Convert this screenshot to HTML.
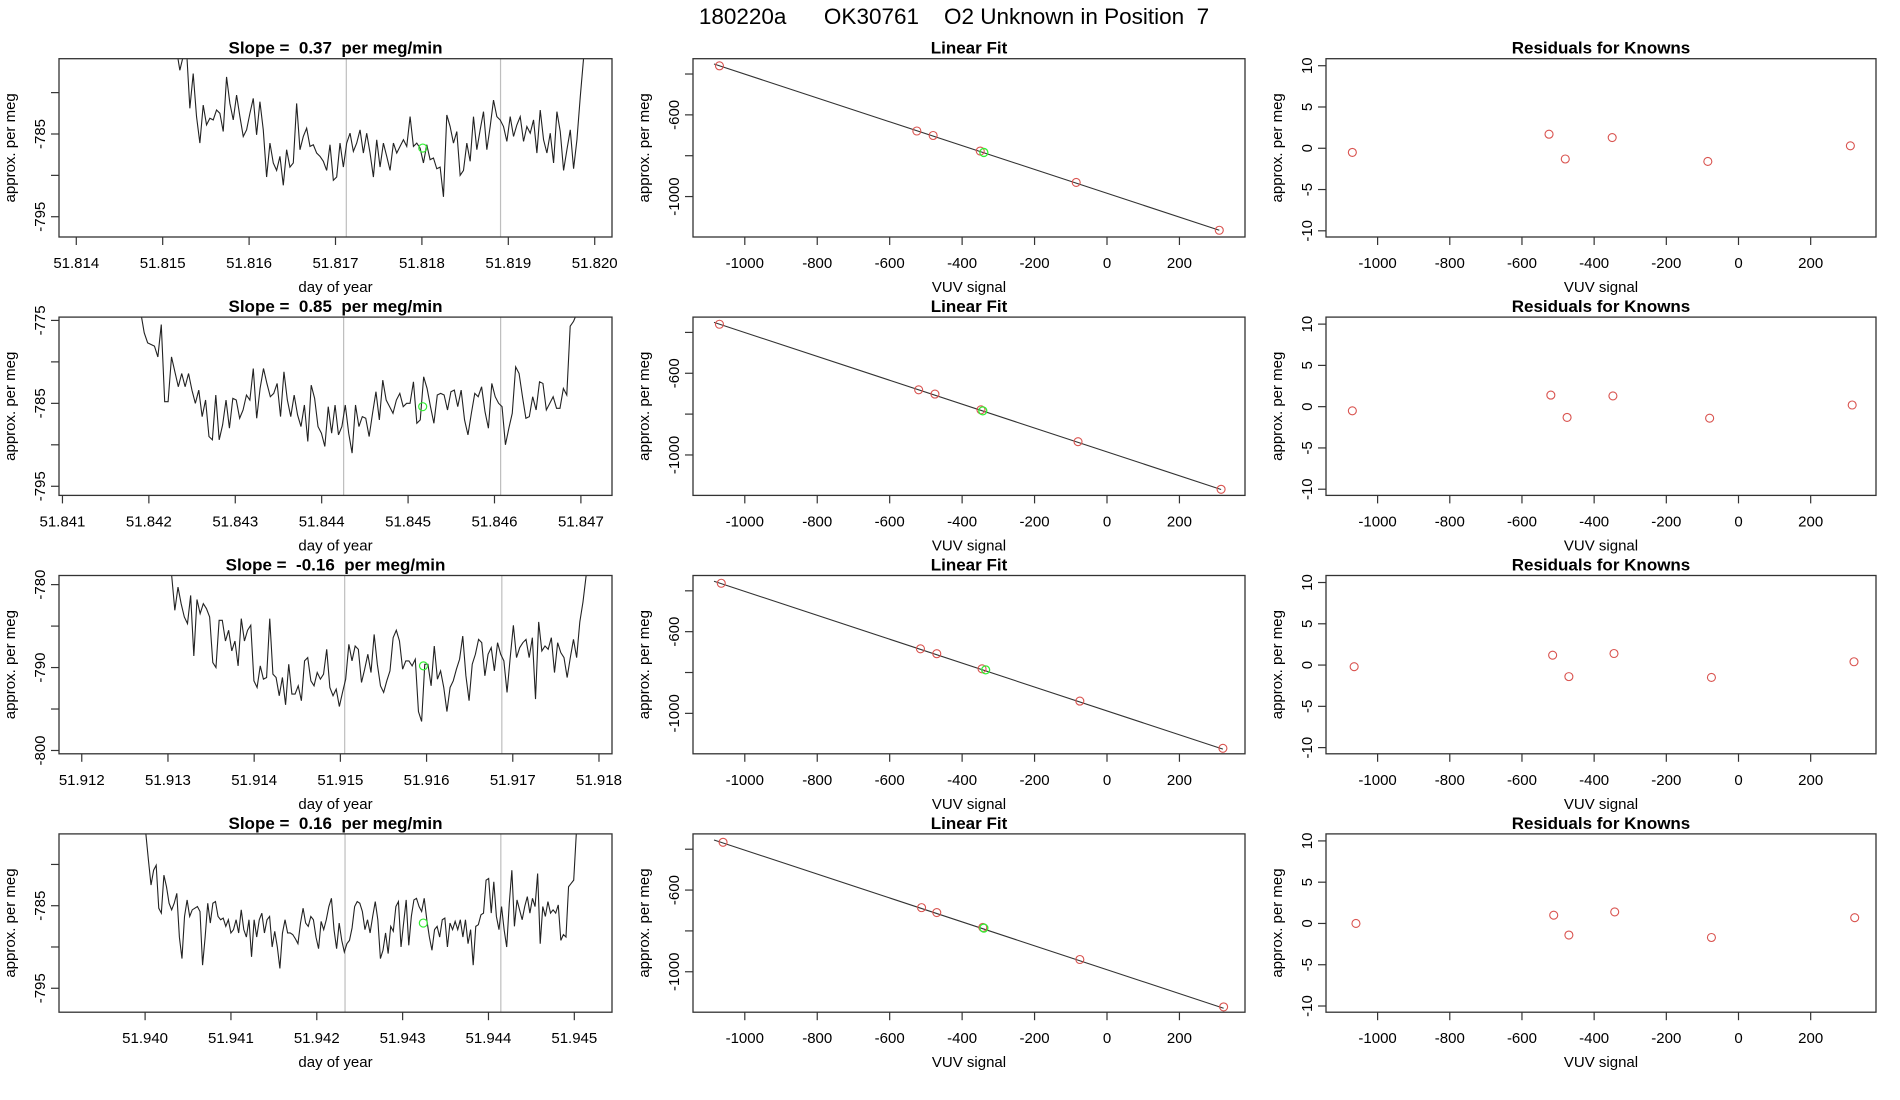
<!DOCTYPE html>
<html><head><meta charset="utf-8">
<style>
html,body{margin:0;padding:0;background:#fff;}
svg{display:block;font-family:"Liberation Sans",sans-serif;}
text{white-space:pre;}
</style></head>
<body>
<svg id="chart" xmlns="http://www.w3.org/2000/svg" width="1900" height="1100" viewBox="0 0 1900 1100">
<text x="954" y="24" font-size="22.5" text-anchor="middle" xml:space="preserve">180220a      OK30761    O2 Unknown in Position  7</text>
</svg>
<script>
// ---------- time-series data (per row) ----------
const tsTitles = ["Slope =  0.37  per meg/min","Slope =  0.85  per meg/min","Slope =  -0.16  per meg/min","Slope =  0.16  per meg/min"];
const tsStart = [51.81516, 51.841907, 51.913043, 51.940009];
const tsEnd = [51.81991, 51.846955, 51.917851, 51.945023];
const tsXlim = [[51.81380,51.82020],[51.84096,51.84736],[51.911736,51.918151],[51.938997,51.945439]];
const tsYlim = [[-797.45,-775.9],[-796.1,-774.6],[-800.4,-778.9],[-797.9,-776.3]];
const tsXticks = [[51.814,51.815,51.816,51.817,51.818,51.819,51.820],[51.841,51.842,51.843,51.844,51.845,51.846,51.847],[51.912,51.913,51.914,51.915,51.916,51.917,51.918],[51.940,51.941,51.942,51.943,51.944,51.945]];
const tsYticks = [[-780,-785,-790,-795],[-775,-780,-785,-790,-795],[-780,-785,-790,-795,-800],[-780,-785,-790,-795]];
const tsYlabels = [[-785,-795],[-775,-785,-795],[-780,-790,-800],[-785,-795]];
const tsVlines = [[51.817125,51.81891],[51.844254,51.846071],[51.915050,51.916873],[51.942329,51.944144]];
const tsGreenX = [51.81801, 51.845169, 51.915964, 51.943241];
const tsGreenY = [-786.7, -785.4, -789.8, -787.1];
const ts1 = [-774.8,-777.3,-775.6,-774.8,-781.9,-777.7,-782.9,-786.1,-781.5,-783.9,-783.1,-783.3,-782.1,-782.5,-784.7,-778.1,-781.3,-783.3,-780.3,-782.9,-785.3,-784.5,-782.5,-780.7,-785.1,-781.1,-784.5,-790.2,-786.1,-788.5,-789.4,-787.7,-791.2,-786.9,-789.0,-788.5,-781.3,-786.9,-785.3,-784.3,-786.5,-786.3,-787.3,-787.7,-788.3,-789.4,-786.3,-790.6,-790.2,-786.1,-789.0,-786.1,-784.9,-787.1,-786.1,-784.5,-787.3,-784.9,-787.3,-790.2,-785.7,-789.0,-786.1,-787.7,-789.4,-786.1,-787.3,-786.5,-785.7,-786.5,-782.9,-786.5,-786.1,-786.7,-788.5,-786.3,-788.1,-787.9,-789.2,-789.0,-792.6,-782.7,-784.1,-786.1,-784.7,-790.0,-789.4,-786.1,-788.3,-782.9,-786.9,-784.5,-782.3,-786.9,-784.1,-780.9,-782.9,-783.3,-784.1,-785.9,-782.9,-785.3,-783.9,-782.9,-785.9,-784.1,-784.9,-783.3,-787.3,-782.1,-785.7,-787.3,-784.9,-788.5,-782.3,-784.7,-789.4,-786.9,-784.5,-789.2,-785.7,-780.5,-775.8,-770];
const ts2 = [-774.1,-776.5,-777.7,-777.9,-778.1,-779.4,-775.5,-784.8,-784.8,-779.4,-781.2,-783.0,-781.4,-783.0,-781.4,-783.4,-785.0,-783.4,-786.6,-784.6,-789.0,-789.4,-784.0,-789.4,-787.6,-784.6,-788.0,-784.4,-784.6,-786.8,-785.8,-784.0,-784.6,-780.8,-786.8,-783.2,-780.8,-782.6,-784.2,-783.8,-782.6,-786.6,-781.2,-784.6,-786.6,-784.0,-786.4,-787.8,-785.2,-789.6,-782.8,-784.4,-787.8,-788.6,-790.2,-785.4,-788.6,-785.2,-788.8,-787.8,-785.2,-788.6,-791.0,-785.2,-787.8,-786.6,-786.8,-789.0,-786.2,-783.6,-787.0,-782.2,-784.6,-785.4,-786.2,-784.6,-783.8,-785.4,-785.0,-785.0,-782.4,-787.4,-787.0,-781.8,-783.2,-785.4,-787.4,-784.0,-783.8,-784.0,-785.8,-783.6,-783.4,-785.4,-783.4,-787.0,-788.8,-786.2,-783.8,-784.2,-783.0,-786.0,-788.0,-782.6,-784.2,-785.0,-785.4,-790.0,-788.0,-786.2,-780.6,-781.4,-784.2,-786.8,-786.6,-784.2,-785.8,-782.4,-782.6,-785.8,-785.0,-784.2,-785.6,-785.6,-783.2,-784.0,-775.7,-775.1,-774.1];
const ts3 = [-778.9,-783.1,-780.3,-782.3,-783.9,-784.7,-781.3,-788.6,-781.8,-783.5,-782.3,-782.9,-783.9,-789.4,-790.0,-784.3,-784.3,-786.8,-785.5,-788.0,-786.8,-789.8,-784.1,-786.8,-785.5,-784.9,-791.6,-792.4,-789.8,-791.4,-791.2,-784.1,-790.8,-791.2,-793.4,-791.2,-794.5,-789.6,-793.2,-793.2,-792.2,-794.0,-789.2,-788.8,-791.6,-792.2,-790.6,-791.4,-790.8,-787.8,-792.4,-793.4,-792.6,-794.7,-793.0,-791.4,-787.2,-789.2,-787.4,-787.8,-791.8,-790.2,-788.4,-790.6,-786.0,-789.6,-792.2,-793.0,-791.6,-790.4,-786.4,-785.5,-786.8,-790.2,-789.2,-789.2,-789.8,-789.0,-795.3,-796.5,-789.6,-789.6,-792.2,-787.4,-791.4,-790.4,-792.4,-795.3,-792.4,-791.6,-790.2,-789.0,-786.2,-791.0,-794.0,-789.6,-788.4,-786.6,-787.0,-791.0,-788.4,-787.6,-790.4,-787.0,-788.4,-789.2,-793.0,-788.8,-784.9,-788.8,-787.6,-787.0,-786.6,-788.8,-786.4,-793.8,-784.5,-788.0,-787.4,-787.8,-786.4,-790.6,-787.0,-788.2,-788.8,-791.2,-788.8,-786.6,-788.8,-784.5,-782.1,-778.9];
const ts4 = [-776.3,-779.5,-782.5,-780.7,-780.1,-785.3,-785.9,-781.3,-782.7,-784.7,-785.5,-784.7,-783.5,-788.8,-791.4,-786.3,-784.3,-786.3,-785.5,-785.3,-785.1,-785.7,-792.2,-788.8,-784.7,-787.1,-784.7,-784.5,-786.3,-786.7,-786.5,-787.5,-786.7,-788.3,-787.9,-786.7,-788.3,-785.5,-787.9,-788.8,-786.7,-791.2,-786.7,-788.8,-786.7,-785.9,-788.3,-786.7,-786.3,-790.0,-788.1,-790.0,-792.6,-788.3,-786.7,-788.3,-788.3,-788.5,-789.0,-789.6,-787.1,-785.3,-787.1,-787.5,-786.3,-786.7,-788.8,-790.2,-786.9,-787.9,-786.7,-785.1,-784.1,-787.9,-790.2,-787.1,-789.2,-790.6,-789.6,-789.2,-787.7,-785.1,-784.5,-784.7,-785.7,-787.9,-786.7,-788.3,-786.3,-784.5,-786.7,-791.4,-790.4,-788.3,-790.8,-787.5,-788.1,-785.1,-784.5,-790.0,-787.1,-784.3,-789.8,-786.3,-784.3,-784.1,-785.1,-785.7,-784.1,-786.7,-788.8,-790.4,-787.9,-787.5,-788.8,-786.7,-786.5,-790.0,-787.1,-787.9,-786.9,-787.9,-786.7,-788.8,-786.7,-789.6,-787.9,-792.2,-787.5,-787.3,-786.1,-785.9,-781.9,-781.7,-785.9,-782.1,-786.3,-787.9,-785.1,-787.9,-790.0,-784.7,-780.7,-787.5,-784.3,-785.5,-786.7,-785.1,-783.9,-785.9,-784.1,-785.1,-781.1,-789.6,-785.1,-786.3,-784.5,-785.9,-785.5,-785.9,-784.9,-789.2,-788.5,-788.8,-782.7,-782.3,-781.9,-776.3];
const tsValues = [ts1, ts2, ts3, ts4];

// ---------- linear fit data ----------
const fitX = [[-1070,-525,-480,-350,-85,310],[-1070,-520,-475,-348,-80,315],[-1065,-515,-470,-345,-75,320],[-1060,-512,-470,-343,-75,322]];
const fitY = [[-360,-679,-701,-777,-931,-1165],[-360,-681,-702,-779,-935,-1168],[-363,-684,-708,-782,-940,-1171],[-366,-686,-710,-783,-940,-1172]];
const fitGreenX = [-340,-343,-335,-340];
const fitGreenY = [-784,-784,-787,-786];
const fitSlope = [-0.5835,-0.5845,-0.585,-0.5855];
const fitIntercept = [-984,-985,-988,-990];
const fitXticks = [-1000,-800,-600,-400,-200,0,200];
const fitYticks = [-400,-600,-800,-1000];
const fitYlabels = [-600,-1000];

// ---------- residuals data ----------
const resX = fitX;
const resY = [[-0.5,1.7,-1.3,1.3,-1.6,0.3],[-0.5,1.4,-1.3,1.3,-1.4,0.2],[-0.2,1.2,-1.4,1.4,-1.5,0.4],[0.0,1.0,-1.4,1.4,-1.7,0.7]];
const resYticks = [10,5,0,-5,-10];

const NS = "http://www.w3.org/2000/svg";
const svg = document.getElementById('chart');
function mk(tag, attrs, parent){
  const e = document.createElementNS(NS, tag);
  for (const k in attrs) e.setAttribute(k, attrs[k]);
  (parent||svg).appendChild(e);
  return e;
}
const TOP0 = 58.7, PITCH = 258.4, H = 178.3;
const colL = [59, 693, 1326], colR = [612, 1245, 1876];
const fitXlim = [-1143, 381];

function panelFrame(g, L, T, R, B, title, xlab, tname){
  const t = mk('text', {x:(L+R)/2, y:T-5, 'font-size':17, 'font-weight':'bold', 'text-anchor':'middle'}, g);
  
  
  t.textContent = title;
  const xl = mk('text', {x:(L+R)/2, y:B+55, 'font-size':15, 'text-anchor':'middle'}, g);
  
  
  xl.textContent = xlab;
  const yl = mk('text', {x:0, y:0, 'font-size':15, 'text-anchor':'middle', transform:`translate(${L-44},${(T+B)/2}) rotate(-90)`}, g);
  
  
  yl.textContent = 'approx. per meg';
}
function box(g, L, T, R, B){
  const b = mk('rect', {x:L, y:T, width:R-L, height:B-T, fill:'none', stroke:'#333', 'stroke-width':1.3}, g);
  
  
}
function xAxis(g, ticks, sx, B, fmt){
  ticks.forEach(v=>{
    const x = sx(v);
    const tk = mk('line', {x1:x, x2:x, y1:B, y2:B+8, stroke:'#333', 'stroke-width':1.2}, g);
    
    
    const lb = mk('text', {x:x, y:B+31, 'font-size':15, 'text-anchor':'middle'}, g);
    
    
    lb.textContent = fmt(v);
  });
}
function yAxis(g, ticks, labels, sy, L){
  ticks.forEach(v=>{
    const y = sy(v);
    const tk = mk('line', {x1:L-8, x2:L, y1:y, y2:y, stroke:'#333', 'stroke-width':1.2}, g);
    
    
  });
  labels.forEach(v=>{
    const y = sy(v);
    const lb = mk('text', {x:0, y:0, 'font-size':15, 'text-anchor':'middle', transform:`translate(${L-14},${y}) rotate(-90)`}, g);
    
    
    lb.textContent = String(v);
  });
}

for (let r=0; r<4; r++){
  const T = TOP0 + PITCH*r, B = T + H;
  // ---- time series panel ----
  {
    const L = colL[0], R = colR[0];
    const g = mk('g', {});
    
    
    const [x0,x1] = tsXlim[r], [y0,y1] = tsYlim[r];
    const sx = v => L + (v-x0)/(x1-x0)*(R-L);
    const sy = v => B - (v-y0)/(y1-y0)*(B-T);
    const cp = mk('clipPath', {id:'clipts'+r}, g);
    mk('rect', {x:L, y:T, width:R-L, height:B-T}, cp);
    tsVlines[r].forEach(v=>{
      const ln = mk('line', {x1:sx(v), x2:sx(v), y1:T, y2:B, stroke:'#bebebe', 'stroke-width':1.2}, g);
      
      
    });
    const vals = tsValues[r], n = vals.length;
    const step = (tsEnd[r]-tsStart[r])/(n-1);
    let d = '';
    vals.forEach((v,i)=>{ d += (i?'L':'M') + sx(tsStart[r]+i*step).toFixed(2) + ',' + sy(v).toFixed(2); });
    const p = mk('path', {d:d, fill:'none', stroke:'#222', 'stroke-width':1.1, 'clip-path':`url(#clipts${r})`}, g);
    
    
    const gp = mk('circle', {cx:sx(tsGreenX[r]), cy:sy(tsGreenY[r]), r:4, fill:'none', stroke:'#33ee33', 'stroke-width':1.2}, g);
    
    
    box(g, L, T, R, B);
    xAxis(g, tsXticks[r], sx, B, v=>v.toFixed(3));
    yAxis(g, tsYticks[r], tsYlabels[r], sy, L);
    panelFrame(g, L, T, R, B, tsTitles[r], 'day of year', 'slope-title');
  }
  // ---- linear fit panel ----
  {
    const L = colL[1], R = colR[1];
    const g = mk('g', {});
    
    
    const [x0,x1] = fitXlim, y0 = -1198, y1 = -325;
    const sx = v => L + (v-x0)/(x1-x0)*(R-L);
    const sy = v => B - (v-y0)/(y1-y0)*(B-T);
    const xa = -1085, xb = Math.max(...fitX[r]);
    const fl = mk('line', {x1:sx(xa), y1:sy(fitIntercept[r]+fitSlope[r]*xa), x2:sx(xb), y2:sy(fitIntercept[r]+fitSlope[r]*xb), stroke:'#333', 'stroke-width':1.1}, g);
    
    
    fitX[r].forEach((x,i)=>{
      const c = mk('circle', {cx:sx(x), cy:sy(fitY[r][i]), r:4, fill:'none', stroke:'#d9534f', 'stroke-width':1.1}, g);
      
      
    });
    const gc = mk('circle', {cx:sx(fitGreenX[r]), cy:sy(fitGreenY[r]), r:4, fill:'none', stroke:'#33ee33', 'stroke-width':1.3}, g);
    
    
    box(g, L, T, R, B);
    xAxis(g, fitXticks, sx, B, v=>String(v));
    yAxis(g, fitYticks.filter(v=>v>=y0&&v<=y1), fitYlabels, sy, L);
    panelFrame(g, L, T, R, B, 'Linear Fit', 'VUV signal', 'linear-fit-title');
  }
  // ---- residuals panel ----
  {
    const L = colL[2], R = colR[2];
    const g = mk('g', {});
    
    
    const [x0,x1] = fitXlim, y0 = -10.75, y1 = 10.85;
    const sx = v => L + (v-x0)/(x1-x0)*(R-L);
    const sy = v => B - (v-y0)/(y1-y0)*(B-T);
    resX[r].forEach((x,i)=>{
      const c = mk('circle', {cx:sx(x), cy:sy(resY[r][i]), r:4, fill:'none', stroke:'#d9534f', 'stroke-width':1.1}, g);
      
      
    });
    box(g, L, T, R, B);
    xAxis(g, fitXticks, sx, B, v=>String(v));
    yAxis(g, resYticks, resYticks, sy, L);
    panelFrame(g, L, T, R, B, 'Residuals for Knowns', 'VUV signal', 'residuals-title');
  }
}
</script>
</body></html>
